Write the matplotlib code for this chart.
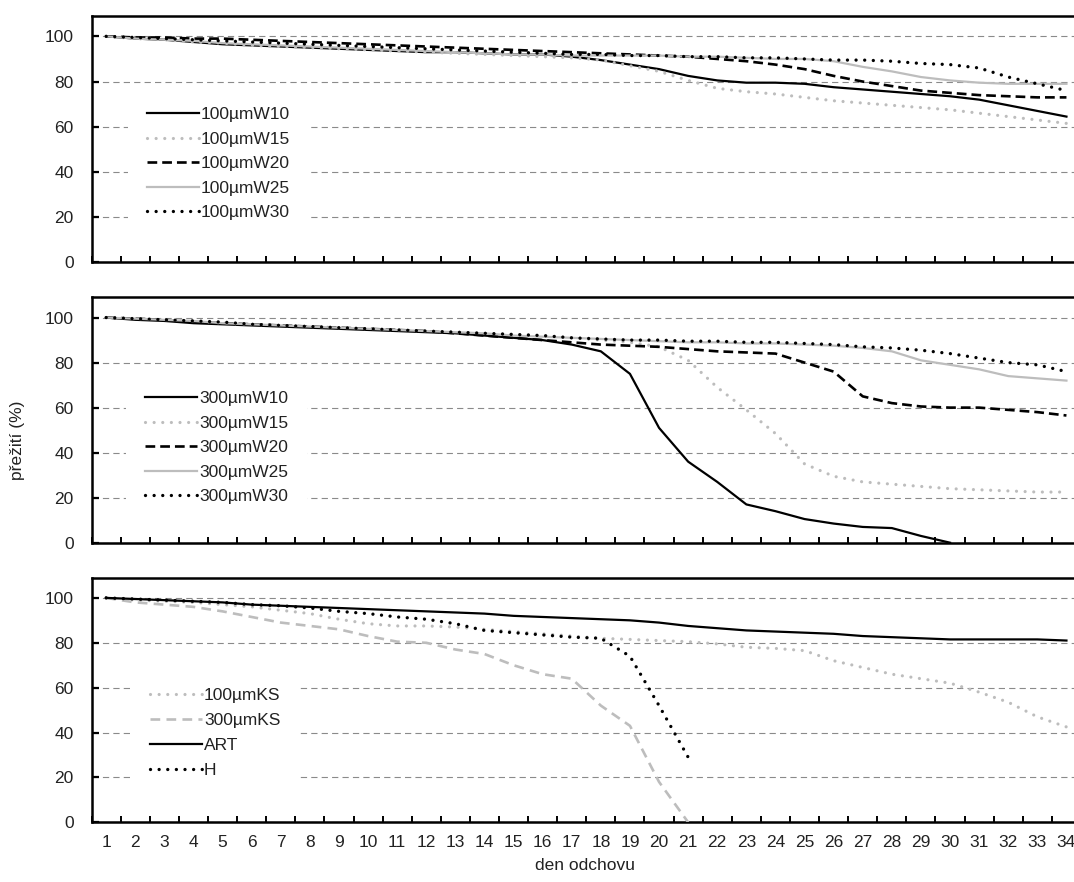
import numpy as np
import matplotlib
matplotlib.use("Agg")
import matplotlib.pyplot as plt

plt.rcParams['font.family'] = ['Liberation Sans Narrow', 'Liberation Sans', 'DejaVu Sans']
plt.rcParams['lines.scale_dashes'] = False

nan = np.nan
days = list(range(1, 35))
day_labels = [str(d) for d in days]

# Panel 1 (100 µm)
labels_1 = ["100µmW10", "100µmW15", "100µmW20", "100µmW25", "100µmW30"]
w10_100 = [100, 99, 98.5, 97.5, 96.5, 96, 95.5, 95, 94.5, 94, 93.5, 93, 93, 92.5, 92, 92, 91,
           89.5, 87.5, 85.5, 82.5, 80.5, 79.5, 79.5, 79, 77.5, 76.5, 75.5, 74.5, 73.5, 72, 69.5, 67, 64.5]
w15_100 = [100, 99, 98.5, 97.5, 97, 96, 95.5, 95, 94.5, 94, 93.5, 93, 92.5, 92, 91.5, 91, 90.5,
           89.5, 87, 84.5, 80.5, 77, 75.5, 74.5, 73, 71.5, 70.5, 69.5, 68.5, 67.5, 66, 64.5, 63, 61.5]
w20_100 = [100, 99.5, 99.5, 99, 99, 98.5, 98, 97.5, 97, 96.5, 96, 95.5, 95, 94.5, 94, 93.5, 93,
           92.5, 92, 91.5, 91, 90, 89, 87.5, 85.5, 82.5, 80, 78, 76, 75, 74, 73.5, 73, 73]
w25_100 = [100, 99, 98.5, 98, 97, 96.5, 96, 95.5, 95, 94.5, 94, 93.5, 93, 92.5, 92, 92, 91.5,
           91.5, 91.5, 91.5, 91, 91, 90.5, 90, 90, 89, 86.5, 84.5, 82, 80.5, 79.5, 79, 79, 79]
w30_100 = [100, 99.5, 99, 98.5, 98, 97.5, 97, 96.5, 96, 95.5, 95, 94.5, 94, 93.5, 93, 92.5, 92,
           92, 91.5, 91.5, 91, 91, 90.5, 90.5, 90, 89.5, 89.5, 89, 88, 87.5, 86, 82, 79, 76]

# Panel 2 (300 µm)
labels_2 = ["300µmW10", "300µmW15", "300µmW20", "300µmW25", "300µmW30"]
w10_300 = [100, 99, 98.5, 97.5, 97, 96.5, 96, 95.5, 95, 94.5, 94, 93.5, 93, 92, 91, 90, 88,
           85, 75, 51, 36, 27, 17, 14, 10.5, 8.5, 7, 6.5, 3, 0, nan, nan, nan, nan]
w15_300 = [100, 99.5, 99, 98.5, 97.5, 97, 96.5, 96, 95.5, 95, 94.5, 94, 93.5, 93, 92.5, 92, 91,
           90, 89, 87, 81, 69, 59, 48.5, 35, 29.5, 27, 26, 25, 24, 23.5, 23, 22.5, 22.5]
w20_300 = [100, 99.5, 99, 98, 97.5, 97, 96.5, 96, 95.5, 95, 94.5, 94, 93, 92, 91, 90, 89,
           88, 87.5, 87, 86, 85, 84.5, 84, 80, 76, 65, 62, 60.5, 60, 60, 59, 58, 56.5]
w25_300 = [100, 99.5, 99, 98.5, 97.5, 97, 96.5, 96, 95.5, 95, 94.5, 94, 93.5, 93, 92, 91.5, 91,
           90.5, 90, 89.5, 89, 89, 88.5, 88.5, 88, 87.5, 86.5, 85, 81, 79, 77, 74, 73, 72]
w30_300 = [100, 99.5, 99, 98.5, 98, 97, 96.5, 96, 95.5, 95, 94.5, 94, 93.5, 93, 92.5, 92, 91,
           90.5, 90, 90, 89.5, 89.5, 89, 89, 88.5, 88, 87, 86.5, 85.5, 84, 82, 80, 79, 76]

# Panel 3 (controls)
labels_3 = ["100µmKS", "300µmKS", "ART", "H"]
ks_100 = [100, 99, 98.5, 98, 97, 96, 94.5, 93, 90.5, 88.5, 87.5, 87.5, 87, 86, 85, 84, 83,
          82, 81.5, 81, 80.5, 79.5, 78, 77.5, 76.5, 72, 69, 66, 64, 62, 58, 53.5, 47, 42.5]
ks_300 = [100, 98, 97, 96, 94, 91.5, 89, 87.5, 86, 83, 80.5, 80, 77, 75, 70, 66, 64,
          52, 43, 18, 0, nan, nan, nan, nan, nan, nan, nan, nan, nan, nan, nan, nan, nan]
art = [100, 99.5, 99, 98.5, 98, 97, 96.5, 96, 95.5, 95, 94.5, 94, 93.5, 93, 92, 91.5, 91,
       90.5, 90, 89, 87.5, 86.5, 85.5, 85, 84.5, 84, 83, 82.5, 82, 81.5, 81.5, 81.5, 81.5, 81]
h = [100, 99.5, 99, 98.5, 98, 97, 96.5, 95.5, 94, 93, 91.5, 90.5, 88.5, 85.5, 84.5, 83.5, 82.5,
     82, 74, 52, 29, nan, nan, nan, nan, nan, nan, nan, nan, nan, nan, nan, nan, nan]

yticks = [0, 20, 40, 60, 80, 100]

LG = '#bdbdbd'
styles = {
    'solid_k': dict(color='black', lw=1.6, linestyle='-'),
    'dot_g': dict(color=LG, lw=2.3, linestyle=(0, (0.01, 6.2)), dash_capstyle='round'),
    'dash_k': dict(color='black', lw=1.9, linestyle=(0, (7.0, 3.6)), dash_capstyle='butt'),
    'solid_g': dict(color=LG, lw=1.6, linestyle='-'),
    'dot_k': dict(color='black', lw=2.4, linestyle=(0, (0.01, 6.2)), dash_capstyle='round'),
    'dash_g': dict(color=LG, lw=1.9, linestyle=(0, (7.0, 4.5)), dash_capstyle='butt'),
}

W, H = 1074, 882
fig = plt.figure(figsize=(W / 100, H / 100), dpi=100)
fig.patch.set_facecolor('white')

left, right = 91.6, 1081.0
panels = [(16.0, 262.4), (297.3, 542.7), (577.7, 822.3)]

series = [
    [(w10_100, 'solid_k'), (w15_100, 'dot_g'), (w20_100, 'dash_k'), (w25_100, 'solid_g'), (w30_100, 'dot_k')],
    [(w10_300, 'solid_k'), (w15_300, 'dot_g'), (w20_300, 'dash_k'), (w25_300, 'solid_g'), (w30_300, 'dot_k')],
    [(ks_100, 'dot_g'), (ks_300, 'dash_g'), (art, 'solid_k'), (h, 'dot_k')],
]
labelsets = [labels_1, labels_2, labels_3]
legend_anchor = [(0.0365, 0.401), (0.0348, 0.387), (0.0399, 0.3655)]
legend_spacing = [0.54, 0.54, 0.58]

FS = 12.5
TXT = '#222222'
for i, (top, bot) in enumerate(panels):
    ax = fig.add_axes([left / W, 1 - bot / H, (right - left) / W, (bot - top) / H])
    for (vals, st), lab in zip(series[i], labelsets[i]):
        ax.plot(days, vals, label=lab, zorder=3, **styles[st])
    ax.set_xlim(0.5, 34.5)
    ax.set_ylim(0, 109)
    ax.set_yticks(yticks)
    ax.set_yticklabels([str(t) for t in yticks], fontsize=FS, color=TXT)
    ax.yaxis.grid(True, color='#8a8a8a', lw=0.8, linestyle=(0, (4.5, 3.0)), zorder=0)
    ax.set_axisbelow(True)
    ax.tick_params(axis='y', direction='in', length=5, width=1.6, pad=13)
    ax.set_xticks(days)
    ax.set_xticks(np.arange(0.5, 35, 1), minor=True)
    ax.tick_params(axis='x', which='major', length=0, pad=9)
    ax.tick_params(axis='x', which='minor', direction='in', length=4, width=1.4)
    if i == 2:
        ax.set_xticklabels(day_labels, fontsize=FS, color=TXT)
    else:
        ax.set_xticklabels([])
    for sp in ax.spines.values():
        sp.set_linewidth(1.8)
        sp.set_color('black')
    leg = ax.legend(loc='center left', bbox_to_anchor=legend_anchor[i], frameon=True,
                    fontsize=FS, handlelength=3.0, handletextpad=0.1,
                    labelspacing=legend_spacing[i], borderpad=1.1, borderaxespad=0)
    leg.get_frame().set_facecolor('white')
    leg.get_frame().set_edgecolor('none')
    leg.get_frame().set_alpha(1)
    leg.set_zorder(5)
    for t in leg.get_texts():
        t.set_color(TXT)

fig.text(18 / W, 1 - 440 / H, "přežití (%)", rotation=90, ha='center', va='center',
         fontsize=FS, color=TXT)
fig.text(585 / W, 1 - 866 / H, "den odchovu", ha='center', va='center',
         fontsize=FS, color=TXT)

fig.savefig("out.png", dpi=100, facecolor='white')
